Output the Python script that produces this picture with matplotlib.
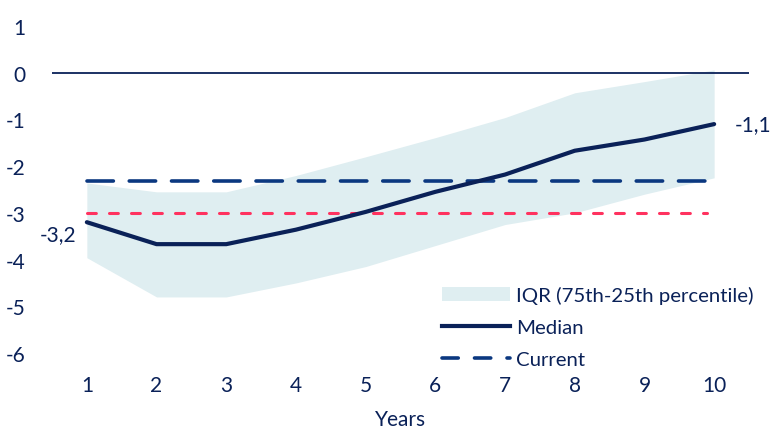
import matplotlib
matplotlib.use("Agg")
import matplotlib.pyplot as plt
from matplotlib.lines import Line2D
from matplotlib.patches import Patch

years = [1, 2, 3, 4, 5, 6, 7, 8, 9, 10]
median = [-3.2, -3.67, -3.67, -3.36, -2.98, -2.55, -2.18, -1.67, -1.43, -1.1]
iqr_upper = [-2.36, -2.55, -2.55, -2.2, -1.8, -1.39, -0.96, -0.43, -0.19, 0.06]
iqr_lower = [-3.96, -4.8, -4.8, -4.5, -4.15, -3.7, -3.25, -3.0, -2.6, -2.25]
current = -2.32
reference_level = -3.0
yticks = [1, 0, -1, -2, -3, -4, -5, -6]

navy = "#0a2158"
cur_col = "#0b3880"
red = "#ff325f"
band = "#dfeef1"

plt.rcParams['font.family'] = ['Lato', 'DejaVu Sans']
plt.rcParams['axes.unicode_minus'] = False
fs = 15

fig = plt.figure(figsize=(7.71, 4.31), dpi=100)
ax = fig.add_axes([52/771, 1-354/431, (749-52)/771, (354-27)/431])

ax.fill_between(years, iqr_lower, iqr_upper, color=band, lw=0, zorder=1)
ax.axhline(0, color=navy, lw=1.3, zorder=2)
ax.plot([years[0], years[-1] - 0.1], [reference_level]*2, color=red, lw=2.2,
        dashes=(2.9, 4.3), zorder=3, dash_capstyle='round')
ax.plot([years[0], years[-1]], [current]*2, color=cur_col, lw=2.6,
        dashes=(7.3, 4.4), zorder=4, dash_capstyle='round')
ax.plot(years, median, color=navy, lw=3, zorder=5, solid_capstyle='round')

ax.text(years[0]-0.15, median[0]-0.05, "-3,2", ha='right', va='top', fontsize=fs, color=navy)
ax.text(years[-1]+0.3, median[-1], "-1,1", ha='left', va='center', fontsize=fs, color=navy)

ax.set_xlim(0.5, 10.5)
ax.set_ylim(-6, 1)
ax.set_xticks(years)
ax.set_yticks(yticks)
ax.tick_params(length=0, labelsize=fs, labelcolor=navy)
ax.tick_params(axis='x', pad=16)
ax.tick_params(axis='y', pad=19)
for s in ax.spines.values():
    s.set_visible(False)
ax.set_xlabel("Years", fontsize=fs, color=navy, labelpad=10)

handles = [Patch(facecolor=band, edgecolor='none'),
           Line2D([0], [0], color=navy, lw=3),
           Line2D([0], [0], color=cur_col, lw=2.6, dashes=(4.5, 4.5), dash_capstyle='round')]
labels = ["IQR (75th-25th percentile)", "Median", "Current"]
leg = fig.legend(handles, labels, loc='lower right', bbox_to_anchor=(764/771, 1-379/431),
                 frameon=False, fontsize=14.7, handlelength=3.3, handletextpad=0.33,
                 labelspacing=0.72, borderpad=0)
for t in leg.get_texts():
    t.set_color(navy)

fig.savefig("out.png", dpi=100)
